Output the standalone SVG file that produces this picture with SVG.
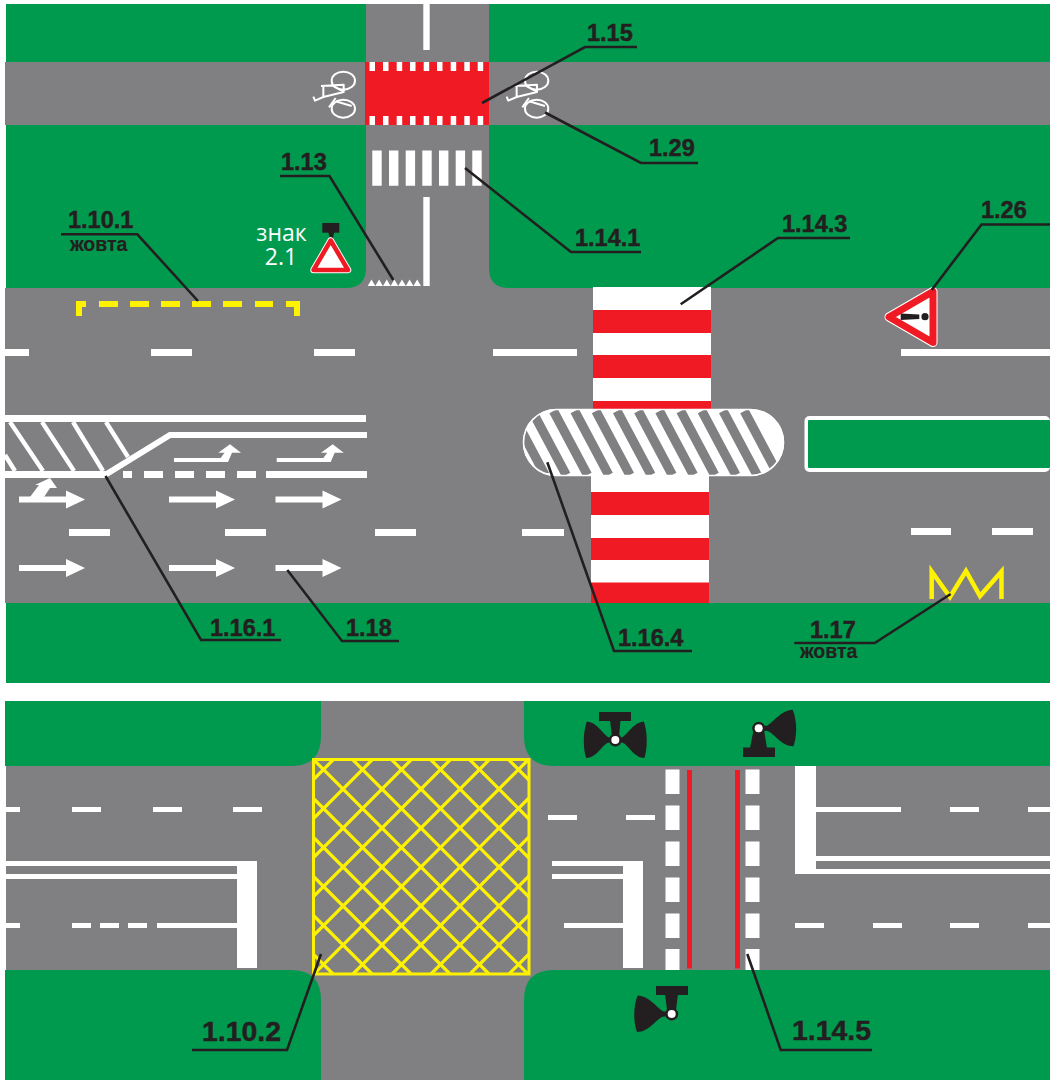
<svg xmlns="http://www.w3.org/2000/svg" width="1053" height="1081" viewBox="0 0 1053 1081">
<style>
.g{fill:#009a4e}.r{fill:#808083}.w{fill:#fff}.red{fill:#f01a24}.y{fill:#fff200}.k{fill:#231f20}
.lab{font-family:"Liberation Sans",Arial,sans-serif;font-weight:700;fill:#231f20;stroke:#231f20;stroke-width:.5;font-size:23.5px}
.big{font-size:28.4px}
.sub{font-size:19.5px;stroke-width:.2}
.sign{font-family:"Open Sans","Noto Sans",sans-serif;fill:#fff;font-size:23px;text-anchor:middle}
.lead{fill:none;stroke:#231f20;stroke-width:2.6}
.ar{fill:#fff}
</style>
<defs>
<path id="arrow" d="M0,-3 H47 V-9 L66,0 L47,9 V3 H0 Z"/>
<path id="turn" d="M174,458 H220.7 L224.500,452.700 H218.300 L230,444.300 L241,452.700 H232 L228,462 H174 Z"/>
<g id="bike" fill="none" stroke="#fff" stroke-width="6" stroke-linejoin="round">
<ellipse cx="115" cy="56" rx="35" ry="27"/>
<ellipse cx="115" cy="140" rx="35" ry="27"/>
<path d="M48,72 L116,68 V90 L55,105 V72 M55,105 L30,116 L25,104 M84,72 L116,90 M72,136 L92,108 M92,118 L140,132"/>
</g>
<path id="horn" d="M0,-2.500 H8 C14,-5 22,-18 34,-18.500 C38.500,-8 38.500,8 34.700,18 C22,18 15,4 8,2.500 H0 Z"/>
<clipPath id="gridclip"><rect x="312" y="758" width="218" height="217"/></clipPath>
<clipPath id="ovalclip"><rect x="523" y="409" width="261" height="67" rx="33.5"/></clipPath>
</defs>
<rect width="1053" height="1081" fill="#fff"/>

<g id="top-road">
<rect class="g" x="6" y="4" width="1044" height="679"/>
<rect class="r" x="5" y="62" width="1045" height="63"/>
<rect class="r" x="366" y="4" width="123" height="290"/>
<rect class="r" x="340" y="262" width="175" height="30"/>
<path class="g" d="M6,125 H366 V268 Q366,288 346,288 H6 Z"/>
<path class="g" d="M489,125 H1050 V288 H509 Q489,288 489,268 Z"/>
<rect class="r" x="5" y="288" width="1045" height="315"/>
</g>

<g id="m1-15">
<rect class="red" x="365" y="62" width="124" height="63"/>
<path class="w" d="M369.5,62h5.5v9h-5.5zM383,62h5.5v9h-5.5zM396.7,62h5.5v9h-5.5zM410,62h5.5v9h-5.5zM423.7,62h5.5v9h-5.5zM437,62h5.5v9h-5.5zM450.7,62h5.5v9h-5.5zM464.3,62h5.5v9h-5.5zM477.7,62h5.5v9h-5.5z"/>
<path class="w" d="M369.5,116h5.5v9h-5.5zM383,116h5.5v9h-5.5zM396.7,116h5.5v9h-5.5zM410,116h5.5v9h-5.5zM423.7,116h5.5v9h-5.5zM437,116h5.5v9h-5.5zM450.7,116h5.5v9h-5.5zM464.3,116h5.5v9h-5.5zM477.7,116h5.5v9h-5.5z"/>
</g>
<g id="m1-29">
<use href="#bike" transform="translate(305,62) scale(.3333)"/>
<use href="#bike" transform="translate(498.3,62) scale(.3333)"/>
</g>
<g id="center-line-top">
<rect class="w" x="423.3" y="4" width="6.4" height="46"/>
<rect class="w" x="423.3" y="197" width="6.4" height="89"/>
</g>
<g id="m1-14-1">
<path class="w" d="M372.3,150.5h9.4v35.2h-9.4zM389,150.5h9.4v35.2h-9.4zM405.7,150.5h9.4v35.2h-9.4zM422.3,150.5h9.4v35.2h-9.4zM439,150.5h9.4v35.2h-9.4zM455.7,150.5h9.4v35.2h-9.4zM472.3,150.5h9.4v35.2h-9.4z"/>
</g>
<g id="m1-13">
<path class="w" d="M367.7,286l3.8,-6.6l3.8,6.6zM375.3,286l3.8,-6.6l3.8,6.6zM383,286l3.8,-6.6l3.8,6.6zM390.6,286l3.8,-6.6l3.8,6.6zM398.2,286l3.8,-6.6l3.8,6.6zM405.8,286l3.8,-6.6l3.8,6.6zM413.4,286l3.8,-6.6l3.8,6.6z"/>
</g>
<g id="sign-2-1">
<rect class="k" x="322.3" y="223" width="17" height="9.7"/>
<path class="k" d="M328.3,232 H334.3 L332.5,240 H330 Z"/>
<path d="M330.7,240.500 L348,270 H313.500 Z" fill="#fff" stroke="#fff" stroke-width="6.500" stroke-linejoin="round"/>
<path d="M330.7,240.500 L348,270 H313.500 Z" fill="#fff" stroke="#f01a24" stroke-width="4.500" stroke-linejoin="round"/>
<text class="sign" x="281.5" y="241">знак</text>
<text class="sign" x="281" y="265">2.1</text>
</g>
<g id="m1-10-1">
<path class="y" d="M76,301H86V307H82V316H76ZM99,301h19v6h-19zM130,301h19v6h-19zM161,301h19v6h-19zM192,301h19v6h-19zM223,301h19v6h-19zM255,301h18v6h-18zM286,301H300V316H294V307H286Z"/>
</g>
<g id="center-dashes-top">
<path class="w" d="M5,349h24v7H5zM151,349h41v7h-41zM314,349h41v7h-41zM493,349h84v7h-84zM901,349h149v7H901z"/>
<path class="w" d="M69,529h41v7H69zM225,529h41v7h-41zM375,529h41v7h-41zM522,529h42v7h-42zM911,528h40v7h-40zM992,528h41v7h-41z"/>
</g>
<g id="m1-16-1">
<path class="w" d="M5,415H366V422H5ZM5,471H106V478H5ZM123,471h9v7h-9zM144,471h19v7h-19zM175,471h19v7h-19zM206,471h19v7h-19zM237,471h19v7h-19zM266,471H367V478H266Z"/>
<path d="M5,455 L15,471 M10,422 L43,471 M42,422 L74,471 M73,422 L103,471 M106,422 L128,457" fill="none" stroke="#fff" stroke-width="4.4"/>
<path d="M105,475 L170,435 H367" fill="none" stroke="#fff" stroke-width="6"/>
</g>
<g id="m1-18" class="ar">
<use href="#arrow" x="19" y="499.5"/>
<use href="#arrow" x="169" y="499.5"/>
<use href="#arrow" x="275.5" y="499.5"/>
<use href="#arrow" x="19" y="568"/>
<use href="#arrow" x="169" y="568"/>
<use href="#arrow" x="275.5" y="568"/>
<use href="#turn"/>
<use href="#turn" x="102.7"/>
<path d="M30,497 L39,485 H35 L50,478 L57,488 H50 L44,497 Z"/>
</g>
<g id="m1-14-3">
<rect class="w" x="593" y="287" width="118" height="122"/>
<rect class="red" x="593" y="310" width="118" height="23"/>
<rect class="red" x="593" y="355" width="118" height="23"/>
<rect class="red" x="593" y="401" width="118" height="8"/>
<rect class="w" x="591" y="470" width="118" height="133"/>
<rect class="red" x="591" y="492" width="118" height="23"/>
<rect class="red" x="591" y="538" width="118" height="22"/>
<rect class="red" x="591" y="582.500" width="118" height="20.500"/>
</g>
<g id="m1-16-4">
<rect class="w" x="523" y="409" width="261" height="67" rx="33.5"/>
<g clip-path="url(#ovalclip)" fill="none" stroke="#808083" stroke-width="9.3">
<path d="M511,411L545,475M532.200,411L566.200,475M553.500,411L587.500,475M574.700,411L608.700,475M595.900,411L629.900,475M617.100,411L651.100,475M638.300,411L672.300,475M659.500,411L693.500,475M680.700,411L714.700,475M701.900,411L735.900,475M723.100,411L757.100,475M744.300,411L778.300,475"/>
</g>
<rect x="523.500" y="409.500" width="260" height="66" rx="33" fill="none" stroke="#fff" stroke-width="1.600"/>
</g>
<g id="island">
<rect class="w" x="804.500" y="416" width="245.500" height="56" rx="5"/>
<rect class="g" x="808" y="420" width="242" height="48" rx="1"/>
</g>
<g id="m1-26">
<path d="M933,291.500 V342.500 L889,317 Z" fill="#fff" stroke="#fff" stroke-width="9" stroke-linejoin="round"/>
<path d="M933,291.500 V342.500 L889,317 Z" fill="#fff" stroke="#f01a24" stroke-width="7" stroke-linejoin="round"/>
<path class="k" d="M900.700,313.500 L919.300,314.500 V319 L900.700,320 Z"/>
<circle class="k" cx="925" cy="316.700" r="3.600"/>
</g>
<g id="m1-17">
<path d="M931.700,599 V571.500 L950,597 L966,571 L980,596 L1001.500,571.500 V599" fill="none" stroke="#fff200" stroke-width="4.500"/>
</g>

<g id="bottom-road">
<rect class="r" x="6" y="701" width="1044" height="379"/>
<path class="g" d="M5,701 H321 V736 Q321,766 291,766 H5 Z"/>
<path class="g" d="M524,701 H1050 V766 H554 Q524,766 524,736 Z"/>
<path class="g" d="M5,1080 H321 V1000 Q321,970 291,970 H5 Z"/>
<path class="g" d="M524,1080 H1050 V970 H554 Q524,970 524,1000 Z"/>
</g>
<g id="m1-10-2">
<g clip-path="url(#gridclip)" fill="none" stroke="#fff200" stroke-width="3.200">
<path d="M312,758L530,976M351,758L530,937M390,758L530,898M429,758L530,859M468,758L530,820M507,758L530,781M312,797L490,975M312,836L451,975M312,875L412,975M312,914L373,975M312,953L334,975"/>
<path d="M530,758L312,976M491,758L312,937M452,758L312,898M413,758L312,859M374,758L312,820M335,758L312,781M530,797L352,975M530,836L391,975M530,875L430,975M530,914L469,975M530,953L508,975"/>
</g>
<rect x="313.500" y="759.500" width="215.500" height="214.500" fill="none" stroke="#fff200" stroke-width="3"/>
</g>
<g id="markings-left">
<path class="w" d="M6,807h14v5H6zM72,807h29v5H72zM153,807h29v5h-29zM233,807h29v5h-29z"/>
<path class="w" d="M6,861H237V866H6ZM6,874H237V879H6ZM237,861h20v107h-20zM6,923h14v5H6zM72,923h19v5H72zM100,923h19v5h-19zM128,923h19v5h-19zM157,923h80v5h-80z"/>
</g>
<g id="markings-mid">
<path class="w" d="M548,815h29v5h-29zM626,815h29v5h-29z"/>
<path class="w" d="M552,861H623V866H552ZM552,874H623V879H552ZM564,923H623V928H564ZM623,861h20v107h-20z"/>
</g>
<g id="m1-14-5">
<path class="w" d="M665.500,769.500h14v24.500h-14zM665.500,805.500h14v24.500h-14zM665.500,841.500h14v24.500h-14zM665.500,877.500h14v24.500h-14zM665.500,913.500h14v24.500h-14zM665.500,949h14v21h-14z"/>
<path class="w" d="M745.500,769.500h14v24.500h-14zM745.500,805.500h14v24.500h-14zM745.500,841.500h14v24.500h-14zM745.500,877.500h14v24.500h-14zM745.500,913.500h14v24.500h-14zM745.500,949h14v21h-14z"/>
<rect class="red" x="687" y="770" width="5" height="198.500"/>
<rect class="red" x="735" y="770" width="5" height="198.500"/>
</g>
<g id="markings-right">
<path class="w" d="M795,766h21v108h-21zM816,807h85v5h-85zM950,807h29v5h-29zM1028,807h22v5h-22zM816,856H1050V861H816ZM816,869H1050V874H816ZM795,923h29v5h-29zM873,923h29v5h-29zM950,923h29v5h-29zM1028,923h22v5h-22z"/>
</g>
<g id="signal-left">
<rect class="k" x="599" y="712" width="32" height="9"/>
<path class="k" d="M610,720 H620.500 L619,737 H612 Z"/>
<use href="#horn" transform="translate(615.300,740) scale(.84,1)" fill="#231f20"/>
<use href="#horn" transform="translate(615.300,740) scale(-.84,1)" fill="#231f20"/>
<circle class="k" cx="615.300" cy="740" r="6.500"/>
<circle class="w" cx="615.300" cy="740" r="4"/>
</g>
<g id="signal-right">
<rect class="k" x="743" y="747.500" width="32" height="9.500"/>
<path class="k" d="M753.500,730 H764 L767,748 H750 Z"/>
<use href="#horn" transform="translate(758.700,728.300)" fill="#231f20"/>
<circle class="k" cx="758.700" cy="728.300" r="6.500"/>
<circle class="w" cx="758.700" cy="728.300" r="4"/>
</g>
<g id="signal-bottom">
<rect class="k" x="656" y="986" width="32" height="9"/>
<path class="k" d="M665,994 H678 L676,1010 H667 Z"/>
<use href="#horn" transform="translate(671.700,1014) scale(-1,1)" fill="#231f20"/>
<circle class="k" cx="671.700" cy="1014" r="6.500"/>
<circle class="w" cx="671.700" cy="1014" r="4"/>
</g>

<g id="connectors" class="lead">
<path d="M637,47 H585 L482,103"/>
<path d="M698,163 H641 L545,112.500"/>
<path d="M280,176 H329.500 L393.300,280"/>
<path d="M641,252 H571 L465,168"/>
<path d="M850,238 H778 L680.700,304.300"/>
<path d="M1050,224.500 H981.500 L931.700,290"/>
<path d="M61,234.300 H137.300 L198,301"/>
<path d="M281,640 H201 L105.500,476"/>
<path d="M399,641 H342 L287.300,570"/>
<path d="M692,651 H614 L547.300,462.300"/>
<path d="M794.300,643 H874.700 L950.700,594"/>
<path d="M192,1050 H287 L321,954"/>
<path d="M872,1050 H780.700 L747.300,954"/>
</g>
<g id="labels">
<text class="lab" x="587" y="41">1.15</text>
<text class="lab" x="649" y="156">1.29</text>
<text class="lab" x="281" y="170">1.13</text>
<text class="lab" x="575" y="246">1.14.1</text>
<text class="lab" x="782" y="232">1.14.3</text>
<text class="lab" x="981" y="218">1.26</text>
<text class="lab" x="68" y="228">1.10.1</text>
<text class="lab sub" x="70" y="251">жовта</text>
<text class="lab" x="210" y="636">1.16.1</text>
<text class="lab" x="346" y="636">1.18</text>
<text class="lab" x="618" y="646">1.16.4</text>
<text class="lab" x="810" y="638">1.17</text>
<text class="lab sub" x="800" y="658">жовта</text>
<text class="lab big" x="202" y="1041">1.10.2</text>
<text class="lab big" x="792" y="1040">1.14.5</text>
</g>
</svg>
